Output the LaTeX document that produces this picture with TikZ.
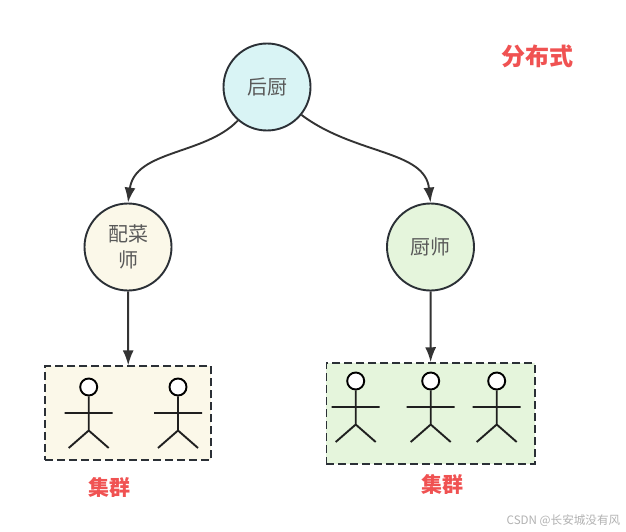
\documentclass[tikz,border=0pt]{standalone}
\usepackage{fontspec}
\setmainfont{Noto Sans CJK SC}
\usetikzlibrary{arrows.meta}
\definecolor{ink}{HTML}{2B3036}
\definecolor{arrowc}{HTML}{333333}
\definecolor{redtxt}{HTML}{F05252}
\definecolor{cyanf}{HTML}{D9F4F5}
\definecolor{creamf}{HTML}{FBF8E9}
\definecolor{greenf}{HTML}{E5F5DC}
\tikzset{
  circ/.style={circle,draw=ink,line width=1.9pt,minimum size=87pt,inner sep=0pt,align=center,text=black!65,font=\fontsize{20}{26}\selectfont},
  grp/.style={draw=ink,line width=1.9pt,dash pattern=on 8pt off 4pt},
  conn/.style={draw=arrowc,line width=1.9pt,-{Latex[length=15pt,width=11pt]}},
  redlab/.style={text=redtxt,font=\bfseries\fontsize{21}{24}\selectfont,inner sep=0pt},
  stick/.style={draw=black!88,line width=1.9pt},
  headc/.style={circle,draw=black,line width=1.9pt,fill=white,minimum size=17pt,inner sep=0pt},
  wm/.style={text=black!30,font=\fontsize{11.6}{13}\selectfont,inner sep=0pt}
}
\newcommand{\actor}[3]{% name, x, head y
  \node[headc] (#1h) at (#2,#3) {};
  \coordinate (#1w) at (#2,#3+43.5);
  \coordinate (#1l) at (#2-20,#3+61);
  \coordinate (#1r) at (#2+20,#3+61);
  \coordinate (#1a) at (#2-24,#3+26);
  \coordinate (#1b) at (#2+24,#3+26);
  \draw[stick] (#1h) -- (#1w) (#1a) -- (#1b) (#1l) -- (#1w) -- (#1r);
}
\begin{document}
\begin{tikzpicture}[x=1pt,y=-1pt]
\useasboundingbox (0,0) rectangle (626,532);
\fill[white] (0,0) rectangle (626,532);
\node[circ,fill=cyanf] (top) at (267,87) {后厨};
\node[circ,fill=creamf] (left) at (128,247) {配菜\\师};
\node[circ,fill=greenf] (right) at (430.5,247) {厨师};
\node[grp,fill=creamf,minimum width=166pt,minimum height=94pt,inner sep=0pt] (g1) at (128.3,413.3) {};
\node[grp,fill=greenf,minimum width=208.5pt,minimum height=101pt,inner sep=0pt] (g2) at (430.7,413.7) {};
\draw[conn] (top.229) .. controls (205,155) and (135,150) .. (left.north);
\draw[conn] (top.321) .. controls (355,155) and (425,150) .. (right.north);
\draw[conn] (left) -- (g1);
\draw[conn] (right) -- (g2);
\actor{a}{88.7}{387}
\actor{b}{178}{387}
\actor{c}{355.7}{381}
\actor{d}{430.7}{381}
\actor{e}{496.7}{381}
\node[redlab,font=\bfseries\fontsize{24}{28}\selectfont] (title) at (537,56) {分布式};
\node[redlab] (l1) at (109.5,487) {集群};
\node[redlab] (l2) at (442,484) {集群};
\node[wm] (w) at (563.5,520.5) {CSDN @长安城没有风};
\end{tikzpicture}
\end{document}
